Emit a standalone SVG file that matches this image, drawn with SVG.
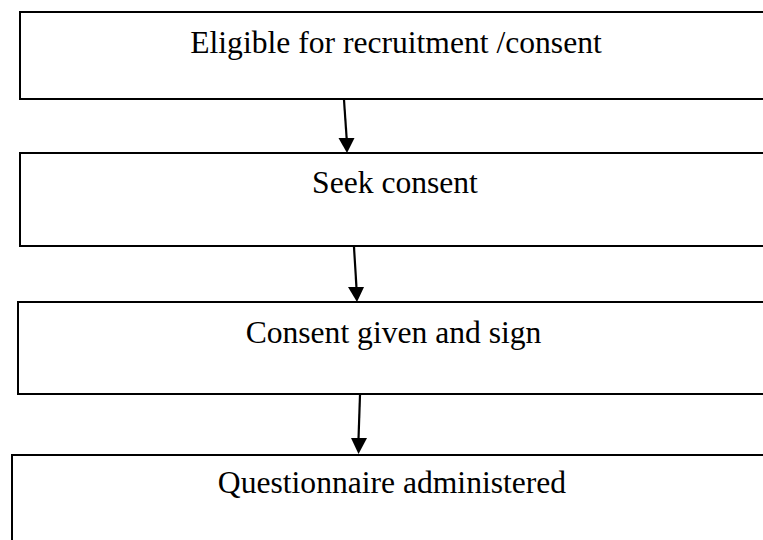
<svg xmlns="http://www.w3.org/2000/svg" width="763" height="540" viewBox="0 0 763 540">
<defs>
<style>
.box{fill:#fff;stroke:#000;stroke-width:2}
.lbl{font-family:"Liberation Serif","Times New Roman",serif;font-size:31.6px;fill:#000;text-anchor:middle}
.conn{stroke:#000;stroke-width:2.2;fill:none}
.head{fill:#000}
</style>
</defs>
<rect width="763" height="540" fill="#fff"/>
<g id="node1">
<rect class="box" x="20" y="12" width="800" height="87"/>
<text class="lbl" x="396" y="53">Eligible for recruitment /consent</text>
</g>
<g id="node2">
<rect class="box" x="20" y="153" width="800" height="93"/>
<text class="lbl" x="395" y="193">Seek consent</text>
</g>
<g id="node3">
<rect class="box" x="18" y="302" width="800" height="92"/>
<text class="lbl" x="393.5" y="343">Consent given and sign</text>
</g>
<g id="node4">
<rect class="box" x="12" y="455" width="800" height="120"/>
<text class="lbl" x="392" y="493">Questionnaire administered</text>
</g>
<g id="connectors">
<line class="conn" x1="344" y1="100" x2="346.7" y2="139"/>
<path class="head" d="M338.5,138 L354.5,138 L347,153 Z"/>
<line class="conn" x1="354" y1="247" x2="356.5" y2="288"/>
<path class="head" d="M348,287 L364,287 L357,302 Z"/>
<line class="conn" x1="360" y1="395" x2="358.5" y2="439"/>
<path class="head" d="M351,438 L367,438 L358.5,454 Z"/>
</g>
</svg>
